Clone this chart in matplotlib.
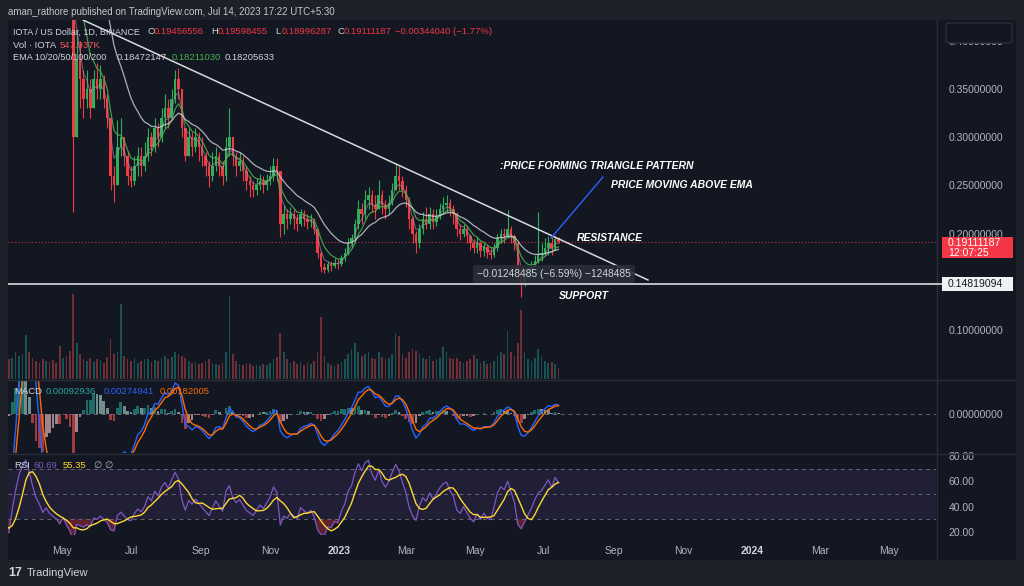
import numpy as np
import pandas as pd
import matplotlib
matplotlib.use('Agg')
import matplotlib.pyplot as plt
from matplotlib.patches import Rectangle, FancyBboxPatch
from matplotlib.lines import Line2D

plt.rcParams['font.family'] = ['Liberation Sans', 'DejaVu Sans']

# ---------------- data (3-day bars, day numbers counted from 2022-01-01) ----------------
bar_step_days = 3
first_bar_day = 43

close = [
    0.86, 0.88, 0.82, 0.78, 0.74, 0.76, 0.72, 0.70, 0.68, 0.66,
    0.65, 0.70, 0.76, 0.84, 0.90, 0.96, 0.92, 0.86, 0.80, 0.76,
    0.70, 0.72, 0.68, 0.66, 0.64, 0.60, 0.62, 0.56, 0.50, 0.30,
    0.38, 0.36, 0.34, 0.35, 0.33, 0.36, 0.35, 0.36, 0.34, 0.32,
    0.26, 0.25, 0.29, 0.30, 0.28, 0.26, 0.255, 0.27, 0.28, 0.27,
    0.28, 0.30, 0.29, 0.31, 0.30, 0.32, 0.33, 0.32, 0.34, 0.36,
    0.35, 0.31, 0.28, 0.30, 0.29, 0.30, 0.29, 0.28, 0.27, 0.26,
    0.27, 0.28, 0.27, 0.26, 0.29, 0.30, 0.28, 0.27, 0.275, 0.265,
    0.255, 0.25, 0.245, 0.25, 0.255, 0.25, 0.255, 0.26, 0.27, 0.265,
    0.21, 0.22, 0.215, 0.22, 0.215, 0.21, 0.22, 0.215, 0.212, 0.214,
    0.205, 0.18, 0.165, 0.162, 0.168, 0.166, 0.17, 0.168, 0.175, 0.18,
    0.19, 0.195, 0.21, 0.225, 0.22, 0.235, 0.24, 0.23, 0.225, 0.24,
    0.23, 0.225, 0.232, 0.245, 0.26, 0.255, 0.245, 0.235, 0.215, 0.20,
    0.19, 0.205, 0.215, 0.21, 0.22, 0.212, 0.218, 0.225, 0.23, 0.232,
    0.225, 0.22, 0.205, 0.20, 0.205, 0.198, 0.19, 0.185, 0.19, 0.182,
    0.186, 0.18, 0.178, 0.185, 0.195, 0.20, 0.198, 0.205, 0.198, 0.19,
    0.16, 0.15, 0.155, 0.16, 0.165, 0.172, 0.178, 0.18, 0.185, 0.19,
    0.185, 0.1946, 0.1911,
]
high = [
    0.90, 0.92, 0.89, 0.83, 0.79, 0.79, 0.77, 0.74, 0.72, 0.70,
    0.68, 0.72, 0.78, 0.86, 0.93, 0.99, 0.98, 0.93, 0.87, 0.82,
    0.77, 0.75, 0.74, 0.70, 0.68, 0.66, 0.65, 0.64, 0.58, 0.51,
    0.41, 0.40, 0.37, 0.37, 0.36, 0.37, 0.377, 0.375, 0.365, 0.345,
    0.32, 0.27, 0.318, 0.32, 0.30, 0.285, 0.27, 0.28, 0.29, 0.29,
    0.295, 0.31, 0.305, 0.32, 0.315, 0.33, 0.345, 0.34, 0.35, 0.37,
    0.372, 0.35, 0.31, 0.31, 0.305, 0.31, 0.305, 0.30, 0.285, 0.275,
    0.285, 0.29, 0.285, 0.275, 0.30, 0.33, 0.30, 0.285, 0.285, 0.28,
    0.27, 0.26, 0.255, 0.258, 0.262, 0.26, 0.262, 0.27, 0.278, 0.278,
    0.265, 0.23, 0.225, 0.228, 0.225, 0.22, 0.226, 0.224, 0.22, 0.22,
    0.216, 0.205, 0.182, 0.17, 0.172, 0.172, 0.175, 0.174, 0.178, 0.185,
    0.195, 0.20, 0.215, 0.235, 0.232, 0.245, 0.248, 0.245, 0.24, 0.256,
    0.245, 0.235, 0.24, 0.252, 0.273, 0.27, 0.26, 0.25, 0.238, 0.218,
    0.203, 0.21, 0.222, 0.228, 0.228, 0.225, 0.226, 0.232, 0.238, 0.24,
    0.236, 0.23, 0.222, 0.21, 0.21, 0.208, 0.20, 0.194, 0.196, 0.192,
    0.19, 0.188, 0.186, 0.19, 0.20, 0.205, 0.206, 0.224, 0.208, 0.20,
    0.192, 0.165, 0.162, 0.165, 0.172, 0.178, 0.222, 0.19, 0.195, 0.198,
    0.196, 0.198, 0.196,
]
low = [
    0.82, 0.84, 0.80, 0.75, 0.71, 0.72, 0.70, 0.68, 0.66, 0.64,
    0.62, 0.64, 0.69, 0.75, 0.82, 0.88, 0.89, 0.84, 0.78, 0.73,
    0.67, 0.68, 0.66, 0.63, 0.61, 0.58, 0.58, 0.54, 0.47, 0.222,
    0.30, 0.33, 0.32, 0.33, 0.32, 0.33, 0.34, 0.34, 0.33, 0.31,
    0.245, 0.233, 0.25, 0.28, 0.27, 0.25, 0.248, 0.25, 0.26, 0.26,
    0.265, 0.275, 0.28, 0.285, 0.29, 0.295, 0.31, 0.31, 0.32, 0.335,
    0.34, 0.30, 0.275, 0.28, 0.28, 0.285, 0.275, 0.27, 0.26, 0.248,
    0.255, 0.265, 0.26, 0.25, 0.255, 0.28, 0.27, 0.26, 0.265, 0.255,
    0.245, 0.238, 0.238, 0.24, 0.245, 0.242, 0.245, 0.25, 0.255, 0.255,
    0.196, 0.20, 0.205, 0.21, 0.205, 0.203, 0.208, 0.208, 0.205, 0.207,
    0.20, 0.175, 0.16, 0.159, 0.16, 0.161, 0.164, 0.163, 0.166, 0.172,
    0.178, 0.185, 0.19, 0.205, 0.21, 0.215, 0.225, 0.222, 0.215, 0.225,
    0.22, 0.215, 0.22, 0.23, 0.245, 0.245, 0.238, 0.228, 0.205, 0.19,
    0.18, 0.185, 0.20, 0.205, 0.205, 0.205, 0.208, 0.215, 0.22, 0.222,
    0.218, 0.21, 0.198, 0.193, 0.196, 0.19, 0.183, 0.18, 0.18, 0.176,
    0.177, 0.175, 0.174, 0.176, 0.182, 0.19, 0.19, 0.195, 0.19, 0.183,
    0.15, 0.134, 0.146, 0.152, 0.158, 0.165, 0.17, 0.172, 0.178, 0.178,
    0.178, 0.183, 0.19,
]
volume = [
    20, 22, 18, 17, 19, 21, 16, 18, 17, 20,
    22, 24, 30, 26, 28, 50, 30, 24, 20, 18,
    22, 20, 19, 21, 18, 37, 24, 26, 32, 95,
    40, 28, 22, 20, 24, 19, 23, 21, 18, 25,
    45, 28, 30, 84, 26, 22, 20, 24, 18, 20,
    22, 23, 19, 21, 20, 24, 26, 22, 25, 30,
    28, 26, 24, 20, 18, 19, 17, 18, 20, 22,
    18, 17, 16, 18, 30, 93, 28, 20, 17, 16,
    18, 17, 15, 16, 15, 17, 16, 18, 22, 25,
    52, 30, 22, 18, 20, 17, 19, 16, 18, 17,
    20, 30, 70, 26, 18, 16, 15, 17, 19, 22,
    28, 34, 41, 30, 26, 28, 30, 24, 22, 30,
    25, 22, 24, 28, 52, 48, 28, 24, 30, 34,
    32, 28, 24, 22, 26, 20, 22, 24, 36, 30,
    24, 22, 24, 20, 18, 20, 22, 27, 22, 18,
    20, 17, 18, 20, 26, 30, 28, 54, 30, 26,
    40, 77, 30, 22, 20, 24, 34, 26, 20, 18,
    19, 17, 12,
]

price_ticks = [0.10, 0.15, 0.20, 0.25, 0.30, 0.35, 0.40]
rsi_ticks = [80, 60, 40, 20]
month_days = [120, 181, 243, 304, 365, 424, 485, 546, 608, 669, 730, 790, 851]
month_labels = ['May', 'Jul', 'Sep', 'Nov', '2023', 'Mar', 'May', 'Jul', 'Sep', 'Nov', '2024', 'Mar', 'May']

support_level = 0.14819094
last_price = 0.19111187
trend_days = [138.6, 638.1]
trend_prices = [0.4216, 0.1519]
arrow_days = [552.4, 598.3]
arrow_prices = [0.1954, 0.2587]

# ---------------- derived series ----------------
n = min(len(close), len(high), len(low), len(volume))
c = np.array(close[:n], float)
h = np.array(high[:n], float)
lo = np.array(low[:n], float)
v = np.array(volume[:n], float)
o = np.r_[c[0], c[:-1]]
days = first_bar_day + bar_step_days * np.arange(n)


def ema(x, n_days):
    a = 1 - (1 - 2.0 / (n_days + 1)) ** bar_step_days
    out = np.empty_like(x)
    out[0] = x[0]
    for i in range(1, len(x)):
        out[i] = a * x[i] + (1 - a) * out[i - 1]
    return out


ema10, ema20, ema50 = ema(c, 10), ema(c, 20), ema(c, 50)
macd = ema(c, 12) - ema(c, 26)
signal = ema(macd, 9)
hist = macd - signal

# RSI (Wilder smoothing over 8 coarse bars), with 5-bar moving average
diff = np.diff(c, prepend=c[0])
gain = np.clip(diff, 0, None)
loss = np.clip(-diff, 0, None)
aw = 1 / 8.0
ag = np.empty(n); al = np.empty(n)
ag[0] = 0.01; al[0] = 0.01
for i in range(1, n):
    ag[i] = aw * gain[i] + (1 - aw) * ag[i - 1]
    al[i] = aw * loss[i] + (1 - aw) * al[i - 1]
rsi = 100 - 100 / (1 + ag / np.maximum(al, 1e-9))
rsi_ma = pd.Series(rsi).rolling(5, min_periods=1).mean().values

# ---------------- layout helpers ----------------
W, H = 1024, 586
OUTER = '#1d2029'
BG = '#131722'
TXT = '#d1d4dc'
AXT = '#b2b5be'
SEP = '#2a2e39'
UP = '#2eb05a'
DN = '#ef3b44'
AX_FS = 7.5

fig = plt.figure(figsize=(W / 100, H / 100), dpi=100, facecolor=OUTER)


def fx(x):
    return x / W


def fy(y):
    return 1 - y / H


def add_px_axes(l, t, r, b):
    ax = fig.add_axes([fx(l), fy(b), (r - l) / W, (b - t) / H])
    ax.set_facecolor('none')
    for s in ax.spines.values():
        s.set_visible(False)
    ax.tick_params(axis='x', length=0, labelbottom=False)
    ax.tick_params(axis='y', length=0, left=False, labelleft=False)
    return ax


def px_rect(l, t, r, b, **kw):
    p = Rectangle((fx(l), fy(b)), (r - l) / W, (b - t) / H, transform=fig.transFigure, **kw)
    fig.add_artist(p)
    return p


def px_text(x, y, s, **kw):
    kw.setdefault('va', 'center')
    kw.setdefault('fontsize', 6.8)
    return fig.text(fx(x), fy(y), s, **kw)


def px_line(x0, y0, x1, y1, **kw):
    fig.add_artist(Line2D([fx(x0), fx(x1)], [fy(y0), fy(y1)], transform=fig.transFigure, **kw))


def day_at(px):
    return 120 + (px - 62) / 1.131


def price_at(py):
    return 0.35 - (py - 89) / 964.0


px_rect(8, 20, 1016, 560, facecolor=BG, lw=0, zorder=-5)

XL = (day_at(8), day_at(936))

# volume
ax_v = add_px_axes(8, 290, 936, 379)
ax_v.set_xlim(*XL)
ax_v.set_ylim(0, 100)
up = c >= o
ax_v.bar(days, v, width=1.5, color=np.where(up, '#26a69a', '#ef5350'), alpha=0.42, lw=0)

# price
ax_p = add_px_axes(8, 20, 936, 379)
ax_p.set_xlim(*XL)
ax_p.set_ylim(price_at(379), price_at(20))
cols = np.where(up, UP, DN)
ax_p.vlines(days, lo, h, colors=cols, lw=0.8, zorder=2)
ax_p.bar(days, np.maximum(np.abs(c - o), 0.0008), bottom=np.minimum(o, c), width=2.2,
         color=cols, lw=0, zorder=3)
ax_p.plot(days, ema10, color='#9598a1', lw=0.8, alpha=0.6, zorder=4)
ax_p.plot(days, ema20, color='#4caf50', lw=0.9, alpha=0.85, zorder=4)
ax_p.plot(days, ema50, color='#d1d4dc', lw=0.9, alpha=0.8, zorder=4)
ax_p.plot(trend_days, trend_prices, color='#d8dae0', lw=1.1, zorder=5)
ax_p.plot(arrow_days, arrow_prices, color='#2962ff', lw=1.0, zorder=5)
ax_p.axhline(support_level, color='#c9ccd3', lw=1.3, zorder=5)
ax_p.axhline(last_price, color='#f23645', lw=0.8, ls=(0, (1, 2)), alpha=0.8, zorder=1)
ax_p.yaxis.tick_right()
ax_p.set_yticks(price_ticks)
ax_p.set_yticklabels(['%.8f' % t for t in price_ticks])
ax_p.tick_params(axis='y', right=True, labelright=True, length=0, pad=9, labelsize=AX_FS, labelcolor=AXT)

# MACD
ax_m = add_px_axes(8, 380, 936, 453)
ax_m.set_xlim(*XL)
aug = (days >= 200) & (days <= 240)
top = np.max(macd[aug]) * 34 / 31.0
ax_m.set_ylim(-top * 39 / 34.0, top)
prev = np.r_[hist[0], hist[:-1]]
hcols = np.where(hist >= 0, np.where(hist >= prev, '#26a69a', '#b2dfdb'),
                 np.where(hist < prev, '#ff5252', '#ffcdd2'))
ax_m.bar(days, hist, width=2.4, color=hcols, alpha=0.6, lw=0)
ax_m.plot(days, macd, color='#2962ff', lw=1.0)
ax_m.plot(days, signal, color='#ff6d00', lw=1.0)
ax_m.axhline(0, color='#787b86', lw=0.7, ls=(0, (4, 4)), alpha=0.8)
ax_m.yaxis.tick_right()
ax_m.set_yticks([0])
ax_m.set_yticklabels(['0.00000000'])
ax_m.tick_params(axis='y', right=True, labelright=True, length=0, pad=9, labelsize=AX_FS, labelcolor=AXT)

# RSI
ax_r = add_px_axes(8, 454, 936, 535)
ax_r.set_xlim(*XL)
ax_r.set_ylim(20 - 3 / 1.267, 80 + 2 / 1.267)
ax_r.axhspan(30, 70, color='#7e57c2', alpha=0.13, lw=0)
for lvl in (70, 50, 30):
    ax_r.axhline(lvl, color='#787b86', lw=0.7, ls=(0, (4, 4)), alpha=0.8)
ax_r.fill_between(days, rsi, 30, where=rsi < 30, color='#f23645', alpha=0.35, lw=0, interpolate=True)
ax_r.plot(days, rsi, color='#7e57c2', lw=0.9)
ax_r.plot(days, rsi_ma, color='#fdd835', lw=1.0)
ax_r.yaxis.tick_right()
ax_r.set_yticks(rsi_ticks)
ax_r.set_yticklabels(['%.2f' % t for t in rsi_ticks])
ax_r.tick_params(axis='y', right=True, labelright=True, length=0, pad=9, labelsize=AX_FS, labelcolor=AXT)
ax_r.set_xticks(month_days)
ax_r.set_xticklabels(month_labels)
ax_r.tick_params(axis='x', labelbottom=True, length=0, pad=8, labelsize=7.5, labelcolor=AXT)
for lab in ax_r.get_xticklabels():
    if lab.get_text().isdigit():
        lab.set_fontweight('bold')
        lab.set_color(TXT)

# separators
px_line(8, 379.5, 1016, 379.5, color=SEP, lw=1)
px_line(8, 453.5, 1016, 453.5, color=SEP, lw=1)
px_line(936.5, 20, 936.5, 560, color=SEP, lw=1)
px_line(936, 284, 942, 284, color='#c9ccd3', lw=1.3)

# right-axis boxes
fig.add_artist(FancyBboxPatch((fx(946), fy(43)), 66 / W, 20 / H, boxstyle='round,pad=0,rounding_size=0.004',
                              transform=fig.transFigure, facecolor=BG, edgecolor='#2f333e', lw=0.8, zorder=8))
px_rect(942, 237, 1013, 258, facecolor='#f23645', lw=0, zorder=8)
px_text(948, 243.5, '0.19111187', color='white', fontsize=AX_FS, zorder=9)
px_text(948, 252.5, '12:07:25', color='white', fontsize=AX_FS, zorder=9)
px_rect(942, 277, 1013, 291, facecolor='#f0f1f3', lw=0, zorder=8)
px_text(948, 284, '0.14819094', color='#131722', fontsize=AX_FS, zorder=9)

# measurement label
fig.add_artist(FancyBboxPatch((fx(473), fy(283)), 162 / W, 18 / H, boxstyle='round,pad=0,rounding_size=0.004',
                              transform=fig.transFigure, facecolor='#2a2e39', edgecolor='none', alpha=0.9, zorder=6))
px_text(554, 274, '\u22120.01248485 (\u22126.59%) \u22121248485', color=TXT, ha='center', fontsize=7.4, zorder=7)

# annotations
ann = dict(color='white', fontsize=7.5, fontweight='bold', fontstyle='italic', zorder=7)
px_text(500, 166, ':PRICE FORMING TRIANGLE PATTERN', **ann)
px_text(611, 185, 'PRICE MOVING ABOVE EMA', **ann)
px_text(577, 238, 'RESISTANCE', **ann)
px_text(559, 296, 'SUPPORT', **ann)

# header & legends
px_text(8, 12, 'aman_rathore published on TradingView.com, Jul 14, 2023 17:22 UTC+5:30', color='#c3c6ce', fontsize=7)
RED = '#f23645'
px_text(13, 32, 'IOTA / US Dollar, 1D, BINANCE', color=TXT, fontsize=6.5)
for xx, lab, val in [(147, 'O', '0.19456556'), (211, 'H', '0.19598455'), (275, 'L', '0.18996287'), (337, 'C', '0.19111187')]:
    px_text(xx, 32, lab, color=TXT)
    px_text(xx + 7, 32, val, color=RED)
px_text(395, 32, '\u22120.00344040 (\u22121.77%)', color=RED)
px_text(13, 45, 'Vol \u00b7 IOTA', color=TXT)
px_text(60, 45, '547.937K', color='#f7525f')
px_text(13, 58, 'EMA 10/20/50/100/200', color=TXT, fontsize=6.6)
px_text(117, 58, '0.18472147', color=TXT)
px_text(172, 58, '0.18211030', color='#4caf50')
px_text(225, 58, '0.18205633', color=TXT)

px_text(14, 391, 'MACD', color=TXT)
px_text(46, 391, '0.00092936', color='#26a69a')
px_text(104, 391, '0.00274941', color='#2962ff')
px_text(160, 391, '0.00182005', color='#ff6d00')

px_text(14, 465, 'RSI', color=TXT)
px_text(33, 465, '60.69', color='#7e57c2')
px_text(63, 465, '55.35', color='#fdd835')
px_text(93, 465, '\u2205', color=AXT)
px_text(104, 465, '\u2205', color=AXT)

# footer logo
px_text(8, 573, '17', color=TXT, fontsize=9, fontweight='bold')
px_text(27, 573, 'TradingView', color=TXT, fontsize=8)

fig.savefig('out.png', dpi=100, facecolor=OUTER)
